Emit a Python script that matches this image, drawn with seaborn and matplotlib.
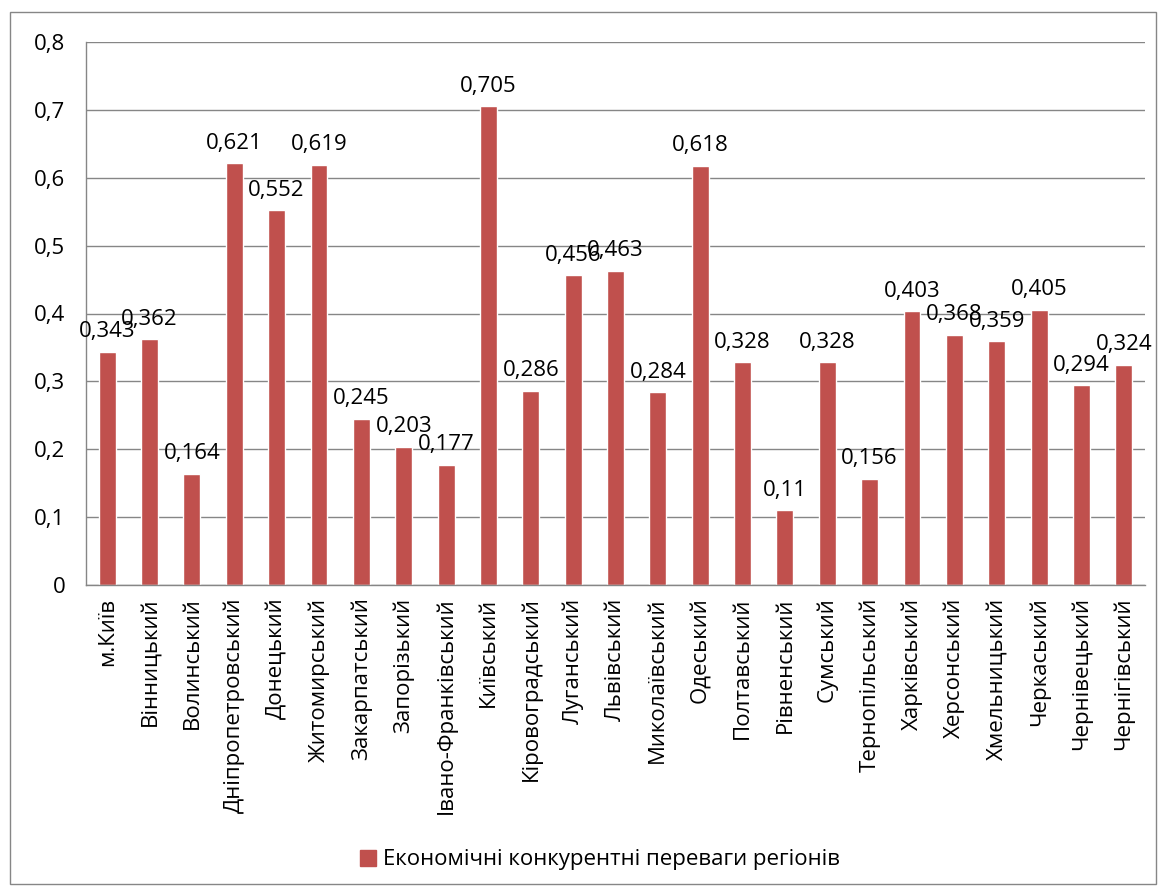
import pandas as pd
import matplotlib
matplotlib.use("Agg")
import matplotlib.pyplot as plt
import seaborn as sns
from matplotlib.patches import Patch, Rectangle

regions = ["м.Київ", "Вінницький", "Волинський", "Дніпропетровський", "Донецький",
           "Житомирський", "Закарпатський", "Запорізький", "Івано-Франківський",
           "Київський", "Кіровоградський", "Луганський", "Львівський", "Миколаївський",
           "Одеський", "Полтавський", "Рівненський", "Сумський", "Тернопільський",
           "Харківський", "Херсонський", "Хмельницький", "Черкаський", "Чернівецький",
           "Чернігівський"]
values = [0.343, 0.362, 0.164, 0.621, 0.552, 0.619, 0.245, 0.203, 0.177, 0.705,
          0.286, 0.456, 0.463, 0.284, 0.618, 0.328, 0.11, 0.328, 0.156, 0.403,
          0.368, 0.359, 0.405, 0.294, 0.324]
series_name = "Економічні конкурентні переваги регіонів"
y_ticks = [0, 0.1, 0.2, 0.3, 0.4, 0.5, 0.6, 0.7, 0.8]

df = pd.DataFrame({"region": regions, "value": values})

sns.set_style("white")
plt.rcParams["font.family"] = ["Open Sans", "DejaVu Sans"]
plt.rcParams["text.color"] = "black"
plt.rcParams["xtick.labelcolor"] = "black"
plt.rcParams["ytick.labelcolor"] = "black"

bar_color = "#C0504D"
grid_color = "#868686"
fs = 16

fig = plt.figure(figsize=(11.66, 8.94), dpi=100)
ax = fig.add_axes([86 / 1166, 1 - 585 / 894, (1145 - 86) / 1166, (585 - 42) / 894])

sns.barplot(data=df, x="region", y="value", color=bar_color, width=0.4,
            saturation=1, ax=ax)

for i, v in enumerate(values):
    ax.annotate(str(v).replace(".", ","), (i, v), xytext=(0, 7),
                textcoords="offset points", ha="center", va="bottom",
                fontsize=fs, color="black")

ax.set_ylim(0, 0.8)
ax.set_xlim(-0.5, len(regions) - 0.5)
ax.set_yticks(y_ticks)
ax.set_yticklabels([("%g" % t).replace(".", ",") for t in y_ticks], fontsize=fs)
ax.set_xticks(range(len(regions)))
ax.set_xticklabels(regions, rotation=90, fontsize=fs)
ax.set_xlabel("")
ax.set_ylabel("")

# category boundary tick marks on x axis
ax.set_xticks([i - 0.5 for i in range(len(regions) + 1)], minor=True)
ax.tick_params(axis="x", which="major", length=0, pad=9, labelcolor="black")
ax.tick_params(axis="x", which="minor", length=7, color=grid_color, width=1)
ax.tick_params(axis="y", length=7, color=grid_color, width=1, pad=8, labelcolor="black")

ax.yaxis.grid(True, color=grid_color, linewidth=1)
ax.set_axisbelow(True)
for side in ["top", "right"]:
    ax.spines[side].set_visible(False)
for side in ["left", "bottom"]:
    ax.spines[side].set_color(grid_color)
    ax.spines[side].set_linewidth(1)

leg = fig.legend(handles=[Patch(color=bar_color, label=series_name)], loc="center",
                 bbox_to_anchor=(600 / 1166, 1 - 860 / 894), frameon=False, fontsize=fs,
                 handlelength=0.7, handleheight=0.7, handletextpad=0.3)
for t in leg.get_texts():
    t.set_color("black")

fig.patches.append(Rectangle((10 / 1166, 10 / 894), 1146 / 1166, 872 / 894,
                             transform=fig.transFigure, fill=False,
                             edgecolor=grid_color, linewidth=1))

fig.savefig("out.png", dpi=100)
